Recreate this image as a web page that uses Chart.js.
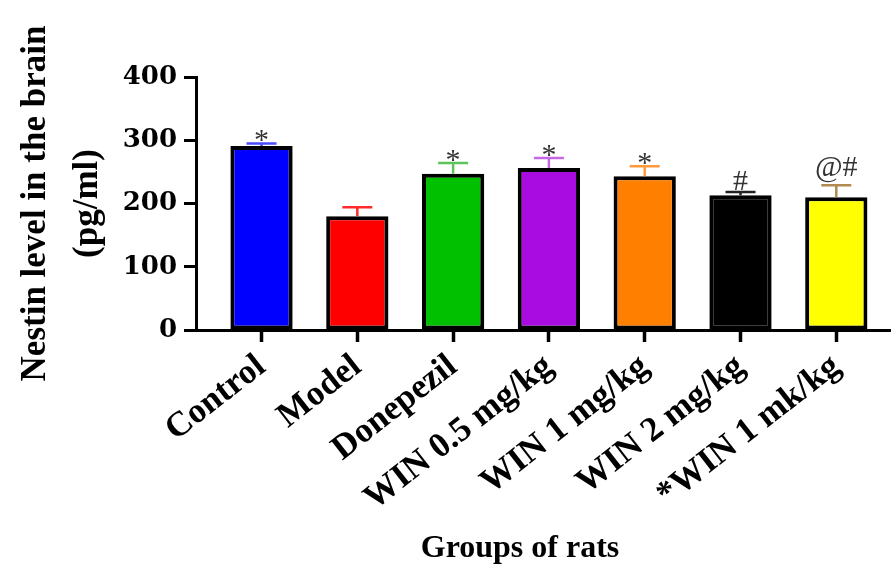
<!DOCTYPE html>
<html>
<head>
<meta charset="utf-8">
<script src="https://cdn.jsdelivr.net/npm/chart.js@4/dist/chart.umd.min.js"></script>
<style>
html,body{margin:0;padding:0;background:#fff;}
#wrap{width:891px;height:569px;position:relative;}
</style>
</head>
<body>
<div id="wrap"><canvas id="c" width="891" height="569"></canvas></div>
<script>
const categories = ['Control', 'Model', 'Donepezil', 'WIN 0.5 mg/kg', 'WIN 1 mg/kg', 'WIN 2 mg/kg', '*WIN 1 mk/kg'];
const means = [291, 180, 247, 256, 243, 213, 210];
const errors = [4, 14, 17, 16, 16, 5, 19];
const marks = ['*', '', '*', '*', '*', '#', '@#'];
const barColors = ['#0000ff', '#ff0000', '#00c000', '#a80ce0', '#ff8000', '#000000', '#ffff00'];
const errorColors = ['#4a4aff', '#ff2a2a', '#5cc45c', '#c468e6', '#ff9a3c', '#222222', '#b08a50'];
const yTickValues = [0, 100, 200, 300, 400];
const yTitle = ['Nestin level in the brain', '(pg/ml)'];
const xTitle = 'Groups of rats';

const points = means.map((v, i) => ({ x: i, y: v }));

const errorPlugin = {
  id: 'errorBars',
  afterDatasetsDraw(chart) {
    const { ctx, scales: { x, y } } = chart;
    ctx.save();
    means.forEach((m, i) => {
      const px = x.getPixelForValue(i);
      const yb = y.getPixelForValue(m);
      const yt = y.getPixelForValue(m + errors[i]);
      ctx.strokeStyle = errorColors[i];
      ctx.lineWidth = 2.5;
      ctx.beginPath();
      ctx.moveTo(px, yb);
      ctx.lineTo(px, yt);
      ctx.moveTo(px - 15, yt);
      ctx.lineTo(px + 15, yt);
      ctx.stroke();
      if (marks[i]) {
        ctx.font = '30px "Liberation Serif"';
        ctx.fillStyle = '#333333';
        ctx.textAlign = 'center';
        ctx.textBaseline = 'alphabetic';
        const mt = ctx.measureText(marks[i]);
        ctx.fillText(marks[i], px, yt - 2 - mt.actualBoundingBoxDescent);
      }
    });
    ctx.restore();
  },
  afterDraw(chart) {
    const { ctx } = chart;
    ctx.save();
    ctx.font = 'bold 32px "Liberation Serif"';
    ctx.fillStyle = '#000';
    ctx.textAlign = 'center';
    ctx.textBaseline = 'middle';
    ctx.fillText(xTitle, 520, 549);
    ctx.restore();
  }
};

new Chart(document.getElementById('c'), {
  type: 'bar',
  data: {
    datasets: [{
      data: points,
      backgroundColor: barColors,
      borderColor: '#000',
      borderWidth: 4,
      borderSkipped: false,
      barPercentage: 0.65,
      categoryPercentage: 1
    }]
  },
  options: {
    responsive: false,
    animation: false,
    devicePixelRatio: 1,
    layout: { padding: { top: 77, left: 0, right: 0, bottom: 0 } },
    plugins: { legend: { display: false }, tooltip: { enabled: false } },
    scales: {
      x: {
        type: 'linear',
        offset: false,
        min: -0.684,
        max: 6.571,
        afterBuildTicks: s => { s.ticks = categories.map((_, i) => ({ value: i })); },
        afterFit: s => { s.height = 239; s.paddingLeft = 0; s.paddingRight = 0; },
        grid: { display: true, offset: false, drawOnChartArea: false, drawTicks: true, tickLength: 12, tickWidth: 3.5, tickColor: '#000' },
        border: { display: true, color: '#000', width: 3 },
        ticks: {
          autoSkip: false,
          minRotation: 38,
          maxRotation: 38,
          padding: 4,
          color: '#000',
          font: { family: '"Liberation Serif"', weight: 'bold', size: 35 },
          callback: v => categories[v]
        }
      },
      y: {
        min: 0,
        max: 400,
        afterBuildTicks: s => { s.ticks = yTickValues.map(v => ({ value: v })); },
        afterFit: s => { s.width = 196; s.paddingTop = 0; s.paddingBottom = 0; },
        grid: { display: true, drawOnChartArea: false, drawTicks: true, tickLength: 12, tickWidth: 3, tickColor: '#000' },
        border: { display: true, color: '#000', width: 3 },
        ticks: {
          padding: 7,
          color: '#000',
          font: { family: '"DejaVu Serif"', weight: 'bold', size: 26 }
        },
        title: {
          display: true,
          text: yTitle,
          color: '#000',
          padding: { top: 10, bottom: 0 },
          font: { family: '"Liberation Serif"', weight: 'bold', size: 35, lineHeight: 1.49 }
        }
      }
    }
  },
  plugins: [errorPlugin]
});
</script>
</body>
</html>
